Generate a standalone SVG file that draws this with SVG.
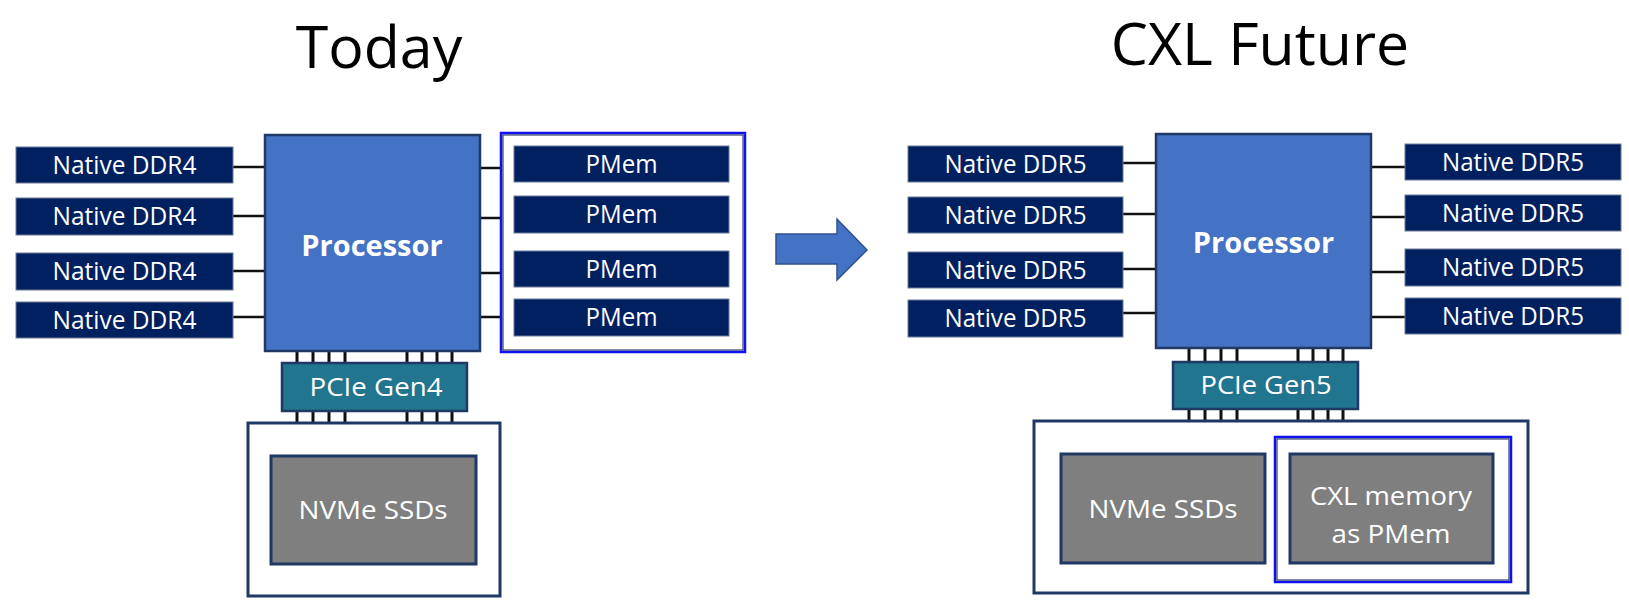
<svg xmlns="http://www.w3.org/2000/svg" width="1629" height="613" viewBox="0 0 1629 613">
  <style>
    .title { font-family: "Open Sans", "Liberation Sans", sans-serif; font-size: 59px; fill: #000; text-anchor: middle; }
    .lbl { font-family: "Open Sans", "Liberation Sans", sans-serif; font-size: 26px; fill: #fff; text-anchor: middle; }
    .cpu-lbl { font-family: "Open Sans", "Liberation Sans", sans-serif; font-size: 29px; font-weight: bold; fill: #fff; text-anchor: middle; }
    .mem { fill: #002060; stroke: #6a7a9a; stroke-width: 1; }
    .cpu { fill: #4472C4; stroke: #1F3864; stroke-width: 2.5; }
    .pcie { fill: #22758F; stroke: #1F3864; stroke-width: 2.5; }
    .store { fill: #7F7F7F; stroke: #1F3864; stroke-width: 3; }
    .frame { fill: #fff; stroke: #1F3864; stroke-width: 3; }
    .pm-frame { fill: #fff; stroke: #1010F0; stroke-width: 2.5; }
    .pm-inner { fill: none; stroke: #0d1a4d; stroke-width: 1; }
    .wire { stroke: #111; stroke-width: 2.5; fill: none; }
    .pin { stroke: #111; stroke-width: 3; fill: none; }
    .arrow { fill: #4472C4; stroke: #2F528F; stroke-width: 1.5; }
  </style>
  <rect width="1629" height="613" fill="#fff"/>

  <!-- titles -->
  <text class="title" x="379" y="68">Today</text>
  <text class="title" x="1260" y="65">CXL Future</text>

  <!-- connectors -->
  <g id="connectors">
    <!-- today: DDR4 to processor -->
    <path class="wire" d="M233 167H265M233 216H265M233 271H265M233 317H265"/>
    <!-- today: processor to PMem -->
    <path class="wire" d="M480 168H514M480 218H514M480 273H514M480 317H514"/>
    <!-- today: PCIe lanes -->
    <path class="pin" d="M297 351V363M313 351V363M329 351V363M345 351V363M407 351V363M422 351V363M437 351V363M452 351V363"/>
    <path class="pin" d="M297 411V423M313 411V423M329 411V423M345 411V423M407 411V423M422 411V423M437 411V423M452 411V423"/>
    <!-- future: DDR5 left -->
    <path class="wire" d="M1123 163H1156M1123 214H1156M1123 269H1156M1123 313H1156"/>
    <!-- future: DDR5 right -->
    <path class="wire" d="M1371 167H1405M1371 217H1405M1371 272H1405M1371 317H1405"/>
    <!-- future: PCIe lanes -->
    <path class="pin" d="M1189 348V362M1205 348V362M1221 348V362M1237 348V362M1298 348V362M1313 348V362M1328 348V362M1343 348V362"/>
    <path class="pin" d="M1189 409V421M1205 409V421M1221 409V421M1237 409V421M1298 409V421M1313 409V421M1328 409V421M1343 409V421"/>
  </g>

  <!-- Today side -->
  <g id="ddr4-1"><rect class="mem" x="16" y="147" width="217" height="36"/><text class="lbl" x="124.5" y="174" textLength="144" lengthAdjust="spacingAndGlyphs">Native DDR4</text></g>
  <g id="ddr4-2"><rect class="mem" x="16" y="198" width="217" height="37"/><text class="lbl" x="124.5" y="225" textLength="144" lengthAdjust="spacingAndGlyphs">Native DDR4</text></g>
  <g id="ddr4-3"><rect class="mem" x="16" y="253" width="217" height="37"/><text class="lbl" x="124.5" y="280" textLength="144" lengthAdjust="spacingAndGlyphs">Native DDR4</text></g>
  <g id="ddr4-4"><rect class="mem" x="16" y="302" width="217" height="36"/><text class="lbl" x="124.5" y="329" textLength="144" lengthAdjust="spacingAndGlyphs">Native DDR4</text></g>

  <g id="processor-today"><rect class="cpu" x="265" y="135" width="215" height="216"/><text class="cpu-lbl" x="372" y="256">Processor</text></g>

  <g id="pmem-group">
    <rect class="pm-frame" x="501" y="133" width="244" height="219"/>
    <rect class="pm-inner" x="503" y="135" width="240" height="215"/>
  </g>
  <g id="pmem-1"><rect class="mem" x="514" y="146" width="215" height="36"/><text class="lbl" x="621.5" y="173" textLength="72" lengthAdjust="spacingAndGlyphs">PMem</text></g>
  <g id="pmem-2"><rect class="mem" x="514" y="196" width="215" height="37"/><text class="lbl" x="621.5" y="223" textLength="72" lengthAdjust="spacingAndGlyphs">PMem</text></g>
  <g id="pmem-3"><rect class="mem" x="514" y="251" width="215" height="36"/><text class="lbl" x="621.5" y="278" textLength="72" lengthAdjust="spacingAndGlyphs">PMem</text></g>
  <g id="pmem-4"><rect class="mem" x="514" y="299" width="215" height="37"/><text class="lbl" x="621.5" y="326" textLength="72" lengthAdjust="spacingAndGlyphs">PMem</text></g>

  <g id="pcie-gen4"><rect class="pcie" x="282" y="363" width="185" height="48"/><text class="lbl" x="376" y="396" textLength="133" lengthAdjust="spacingAndGlyphs">PCIe Gen4</text></g>

  <g id="storage-today">
    <rect class="frame" x="248" y="423" width="252" height="173"/>
    <rect class="store" x="271" y="456" width="205" height="108"/>
    <text class="lbl" x="373" y="519" textLength="149" lengthAdjust="spacingAndGlyphs">NVMe SSDs</text>
  </g>

  <!-- transition arrow -->
  <g id="arrow"><polygon class="arrow" points="776,234 837,234 837,219 867,250 837,280 837,264 776,264"/></g>

  <!-- CXL future side -->
  <g id="ddr5-l1"><rect class="mem" x="908" y="146" width="215" height="36"/><text class="lbl" x="1015.5" y="173" textLength="142" lengthAdjust="spacingAndGlyphs">Native DDR5</text></g>
  <g id="ddr5-l2"><rect class="mem" x="908" y="197" width="215" height="36"/><text class="lbl" x="1015.5" y="224" textLength="142" lengthAdjust="spacingAndGlyphs">Native DDR5</text></g>
  <g id="ddr5-l3"><rect class="mem" x="908" y="252" width="215" height="36"/><text class="lbl" x="1015.5" y="279" textLength="142" lengthAdjust="spacingAndGlyphs">Native DDR5</text></g>
  <g id="ddr5-l4"><rect class="mem" x="908" y="300" width="215" height="37"/><text class="lbl" x="1015.5" y="327" textLength="142" lengthAdjust="spacingAndGlyphs">Native DDR5</text></g>

  <g id="processor-future"><rect class="cpu" x="1156" y="134" width="215" height="214"/><text class="cpu-lbl" x="1263.5" y="253">Processor</text></g>

  <g id="ddr5-r1"><rect class="mem" x="1405" y="144" width="216" height="36"/><text class="lbl" x="1513" y="171" textLength="142" lengthAdjust="spacingAndGlyphs">Native DDR5</text></g>
  <g id="ddr5-r2"><rect class="mem" x="1405" y="195" width="216" height="36"/><text class="lbl" x="1513" y="222" textLength="142" lengthAdjust="spacingAndGlyphs">Native DDR5</text></g>
  <g id="ddr5-r3"><rect class="mem" x="1405" y="249" width="216" height="37"/><text class="lbl" x="1513" y="276" textLength="142" lengthAdjust="spacingAndGlyphs">Native DDR5</text></g>
  <g id="ddr5-r4"><rect class="mem" x="1405" y="298" width="216" height="36"/><text class="lbl" x="1513" y="325" textLength="142" lengthAdjust="spacingAndGlyphs">Native DDR5</text></g>

  <g id="pcie-gen5"><rect class="pcie" x="1173" y="362" width="185" height="47"/><text class="lbl" x="1266" y="394" textLength="131" lengthAdjust="spacingAndGlyphs">PCIe Gen5</text></g>

  <g id="storage-future">
    <rect class="frame" x="1034" y="421" width="494" height="172"/>
  </g>
  <g id="nvme-future">
    <rect class="store" x="1061" y="454" width="204" height="109"/>
    <text class="lbl" x="1163" y="518" textLength="149" lengthAdjust="spacingAndGlyphs">NVMe SSDs</text>
  </g>
  <g id="cxl-memory">
    <rect class="pm-frame" x="1275" y="437" width="236" height="145"/>
    <rect class="pm-inner" x="1277" y="439" width="232" height="141"/>
    <rect class="store" x="1290" y="454" width="203" height="109"/>
    <text class="lbl" x="1391" y="505" textLength="162" lengthAdjust="spacingAndGlyphs">CXL memory</text>
    <text class="lbl" x="1391" y="543" textLength="119" lengthAdjust="spacingAndGlyphs">as PMem</text>
  </g>
</svg>
